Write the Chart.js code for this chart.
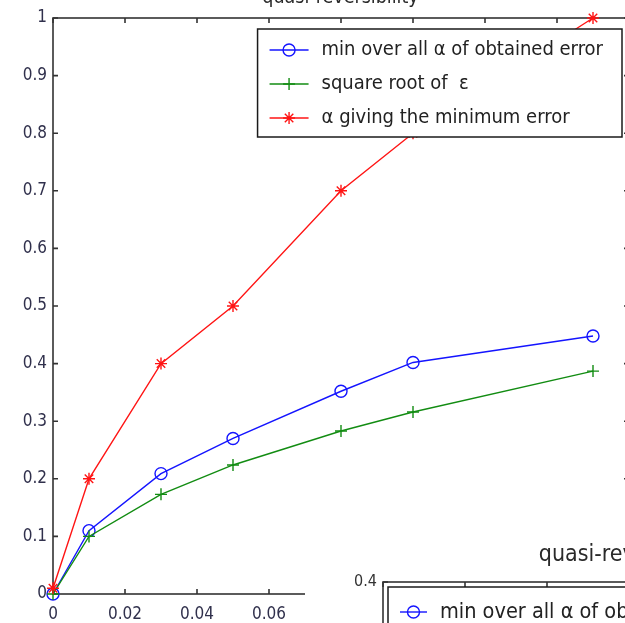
<!DOCTYPE html>
<html>
<head>
<meta charset="utf-8">
<script src="https://cdn.jsdelivr.net/npm/chart.js@4.4.0/dist/chart.umd.min.js"></script>
<style>
  html, body { margin: 0; padding: 0; background: #fff; }
  body { width: 625px; height: 623px; overflow: hidden; position: relative; }
  #c1 { position: absolute; left: 0; top: -22px; }
  #box2 { position: absolute; left: 305px; top: 520px; width: 652px; height: 520px; background: #fff; }
</style>
</head>
<body>
<canvas id="c1" width="665" height="650"></canvas>
<div id="box2"><canvas id="c2" width="652" height="520"></canvas></div>
<script>
// data
const epsilon = [0, 0.01, 0.03, 0.05, 0.08, 0.1, 0.15];
const minError = [0, 0.11, 0.209, 0.27, 0.352, 0.402, 0.448];
const sqrtEps = [0, 0.1, 0.173, 0.224, 0.283, 0.316, 0.387];
const bestAlpha = [0.01, 0.2, 0.4, 0.5, 0.7, 0.8, 1.0];
const seriesLabels = ['min over all α of obtained error', 'square root of  ε', 'α giving the minimum error'];
const chartTitle = 'quasi-reversibility';

const xTickValues = [0, 0.02, 0.04, 0.06, 0.08, 0.1, 0.12, 0.14, 0.16];
const xTickLabels = ['0', '0.02', '0.04', '0.06', '0.08', '0.1', '0.12', '0.14', '0.16'];
const yTickValues = [0, 0.1, 0.2, 0.3, 0.4, 0.5, 0.6, 0.7, 0.8, 0.9, 1];
const yTickLabels = ['0', '0.1', '0.2', '0.3', '0.4', '0.5', '0.6', '0.7', '0.8', '0.9', '1'];

// second (partly hidden) figure
const x2TickValues = [0, 0.02, 0.04, 0.06, 0.08, 0.1, 0.12, 0.14];
const y2TickValues = [0, 0.1, 0.2, 0.3, 0.4];
const y2TickLabels = ['0', '0.1', '0.2', '0.3', '0.4'];

const FONT = "'Liberation Sans Narrow', 'DejaVu Sans Condensed', 'Liberation Sans', sans-serif";

const matlabAxes = {
  id: 'matlabAxes',
  beforeDatasetsDraw(chart, args, opts) {
    const { ctx, chartArea: a, scales } = chart;
    const L = opts.tickLen;
    ctx.save();
    ctx.strokeStyle = opts.axisColor;
    ctx.lineWidth = opts.axisWidth;
    ctx.strokeRect(a.left, a.top, a.right - a.left, a.bottom - a.top);
    ctx.beginPath();
    scales.x.ticks.forEach(t => {
      const px = scales.x.getPixelForValue(t.value);
      ctx.moveTo(px, a.bottom); ctx.lineTo(px, a.bottom - L);
      ctx.moveTo(px, a.top); ctx.lineTo(px, a.top + L);
    });
    scales.y.ticks.forEach(t => {
      const py = scales.y.getPixelForValue(t.value);
      ctx.moveTo(a.left, py); ctx.lineTo(a.left + L, py);
      ctx.moveTo(a.right, py); ctx.lineTo(a.right - L, py);
    });
    ctx.stroke();
    ctx.restore();
  },
  afterDraw(chart, args, opts) {
    const lg = opts.legend;
    const { ctx, chartArea: a } = chart;
    const sets = chart.data.datasets;
    ctx.save();
    ctx.font = lg.font;
    const maxW = Math.max(...sets.map(d => ctx.measureText(d.label).width));
    const w = lg.textX + maxW + lg.padRight;
    const h = lg.firstRow + (sets.length - 1) * lg.rowGap + lg.lastPad;
    const x0 = lg.align === 'right' ? a.right - lg.offsetX - w : a.left + lg.offsetX;
    const y0 = a.top + lg.offsetY;
    ctx.fillStyle = '#fff';
    ctx.fillRect(x0, y0, w, h);
    ctx.strokeStyle = '#1a1a1a';
    ctx.lineWidth = 1.5;
    ctx.strokeRect(x0, y0, w, h);
    sets.forEach((d, i) => {
      const y = y0 + lg.firstRow + i * lg.rowGap;
      ctx.strokeStyle = d.borderColor;
      ctx.lineWidth = d.borderWidth;
      ctx.beginPath();
      ctx.moveTo(x0 + lg.sample[0], y);
      ctx.lineTo(x0 + lg.sample[1], y);
      ctx.stroke();
      ctx.fillStyle = 'rgba(0,0,0,0)';
      Chart.helpers.drawPoint(ctx, {
        pointStyle: d.pointStyle, radius: d.pointRadius, borderWidth: d.pointBorderWidth, rotation: 0
      }, x0 + (lg.sample[0] + lg.sample[1]) / 2, y);
      ctx.fillStyle = lg.color;
      ctx.textBaseline = 'middle';
      ctx.textAlign = 'left';
      ctx.fillText(d.label, x0 + lg.textX, y);
    });
    ctx.restore();
  }
};

function makeSets(withData) {
  const styles = [
    { color: '#1414ff', point: 'circle', vals: minError, order: 3 },
    { color: '#128c12', point: 'cross', vals: sqrtEps, order: 2 },
    { color: '#ff1414', point: 'star', vals: bestAlpha, order: 1 }
  ];
  return styles.map((s, i) => ({
    label: seriesLabels[i],
    data: withData ? epsilon.map((e, k) => ({ x: e, y: s.vals[k] })) : [],
    borderColor: s.color,
    borderWidth: 1.4,
    pointStyle: s.point,
    pointRadius: 6,
    pointBorderWidth: 1.4,
    pointBackgroundColor: 'rgba(0,0,0,0)',
    pointBorderColor: s.color,
    tension: 0,
    clip: 20,
    order: s.order
  }));
}

new Chart(document.getElementById('c1'), {
  type: 'line',
  data: { datasets: makeSets(true) },
  options: {
    responsive: false,
    animation: false,
    layout: { padding: { left: 16, right: 0, top: 0, bottom: 0 } },
    scales: {
      x: {
        type: 'linear', min: 0, max: 0.16,
        afterBuildTicks: s => { s.ticks = xTickValues.map(v => ({ value: v })); },
        afterFit: s => { s.height = 34; },
        grid: { display: false, drawTicks: false },
        border: { display: false },
        ticks: {
          padding: 10, color: '#30304c', font: { family: FONT, size: 17 },
          maxRotation: 0, autoSkip: false,
          callback: (v, i) => xTickLabels[i]
        }
      },
      y: {
        type: 'linear', min: 0, max: 1,
        afterBuildTicks: s => { s.ticks = yTickValues.map(v => ({ value: v })); },
        afterFit: s => { s.width = 37; },
        grid: { display: false, drawTicks: false },
        border: { display: false },
        ticks: {
          padding: 6, color: '#30304c', font: { family: FONT, size: 17 },
          autoSkip: false,
          callback: (v, i) => yTickLabels[i]
        }
      },
      // empty right box so the title centres over the axes like the figure
      yRight: {
        type: 'linear', position: 'right', display: true, min: 0, max: 1,
        afterFit: s => { s.width = 36; },
        grid: { display: false, drawTicks: false },
        border: { display: false },
        ticks: { display: false }
      }
    },
    plugins: {
      legend: { display: false },
      tooltip: { enabled: false },
      title: {
        display: true, text: chartTitle, color: '#2a2a2a',
        font: { family: FONT, size: 19.5, weight: 'normal' },
        padding: { top: 8.4, bottom: 8.2 }
      },
      matlabAxes: {
        tickLen: 5, axisColor: '#333', axisWidth: 1.6,
        legend: {
          font: '20px ' + FONT, color: '#222', align: 'right',
          offsetX: 7, offsetY: 11, firstRow: 21, rowGap: 34, lastPad: 19,
          sample: [12, 51], textX: 64, padRight: 19
        }
      }
    }
  },
  plugins: [matlabAxes]
});

new Chart(document.getElementById('c2'), {
  type: 'line',
  data: { datasets: makeSets(false) },
  options: {
    responsive: false,
    animation: false,
    layout: { padding: { left: 0, right: 0, top: 0, bottom: 0 } },
    scales: {
      x: {
        type: 'linear', min: 0, max: 0.14,
        afterBuildTicks: s => { s.ticks = x2TickValues.map(v => ({ value: v })); },
        afterFit: s => { s.height = 58; },
        grid: { display: false, drawTicks: false },
        border: { display: false },
        ticks: { display: false }
      },
      y: {
        type: 'linear', min: 0, max: 0.4,
        afterBuildTicks: s => { s.ticks = y2TickValues.map(v => ({ value: v })); },
        afterFit: s => { s.width = 78; },
        grid: { display: false, drawTicks: false },
        border: { display: false },
        ticks: {
          padding: 6, color: '#333', font: { family: FONT, size: 16 },
          autoSkip: false,
          callback: (v, i) => y2TickLabels[i]
        }
      }
    },
    plugins: {
      legend: { display: false },
      tooltip: { enabled: false },
      title: {
        display: true, text: chartTitle, color: '#2a2a2a',
        font: { family: FONT, size: 23, weight: 'normal' },
        padding: { top: 21.2, bottom: 13.2 }
      },
      matlabAxes: {
        tickLen: 5, axisColor: '#333', axisWidth: 1.6,
        legend: {
          font: '21.5px ' + FONT, color: '#222', align: 'left',
          offsetX: 5, offsetY: 5, firstRow: 25, rowGap: 36, lastPad: 20,
          sample: [12, 39], textX: 52, padRight: 16
        }
      }
    }
  },
  plugins: [matlabAxes]
});
</script>
</body>
</html>
